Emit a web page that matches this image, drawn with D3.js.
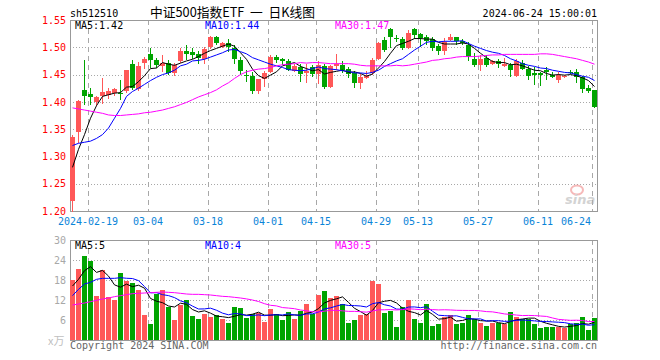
<!DOCTYPE html>
<html><head><meta charset="utf-8">
<script src="https://cdn.jsdelivr.net/npm/d3@7/dist/d3.min.js"></script>
<style>body{margin:0;background:#fff}svg{display:block}</style>
</head><body><svg id="c" width="660" height="360"></svg>
<script>
// ---------- data ----------
const dates = ["02-06","02-07","02-08","02-19","02-20","02-21","02-22","02-23","02-26","02-27","02-28","02-29","03-01",
"03-04","03-05","03-06","03-07","03-08","03-11","03-12","03-13","03-14","03-15","03-18","03-19","03-20","03-21","03-22",
"03-25","03-26","03-27","03-28","03-29","04-01","04-02","04-03","04-08","04-09","04-10","04-11","04-12","04-15","04-16",
"04-17","04-18","04-19","04-22","04-23","04-24","04-25","04-26","04-29","04-30","05-06","05-07","05-08","05-09","05-10",
"05-13","05-14","05-15","05-16","05-17","05-20","05-21","05-22","05-23","05-24","05-27","05-28","05-29","05-30","05-31",
"06-03","06-04","06-05","06-06","06-07","06-11","06-12","06-13","06-14","06-17","06-18","06-19","06-20","06-21","06-24"];
const open = [1.218,1.344,1.422,1.415,1.400,1.410,1.413,1.416,1.416,1.419,
1.470,1.424,1.471,1.487,1.477,1.465,1.471,1.452,1.475,1.494,
1.492,1.487,1.479,1.501,1.518,1.501,1.508,1.498,1.477,1.449,
1.447,1.420,1.441,1.454,1.482,1.478,1.475,1.456,1.464,1.452,
1.464,1.451,1.466,1.428,1.466,1.468,1.460,1.452,1.434,1.443,
1.452,1.478,1.513,1.533,1.517,1.516,1.498,1.533,1.524,1.518,
1.516,1.502,1.493,1.513,1.518,1.512,1.504,1.478,1.468,1.481,
1.470,1.474,1.466,1.468,1.447,1.472,1.460,1.452,1.452,1.458,
1.450,1.440,1.445,1.455,1.455,1.445,1.426,1.421];
const high = [1.339,1.403,1.476,1.425,1.411,1.443,1.426,1.425,1.440,1.459,
1.477,1.473,1.482,1.498,1.480,1.485,1.477,1.472,1.498,1.504,
1.498,1.494,1.500,1.521,1.521,1.510,1.516,1.504,1.482,1.458,
1.455,1.442,1.456,1.486,1.486,1.481,1.479,1.469,1.469,1.470,
1.468,1.475,1.470,1.468,1.487,1.474,1.463,1.457,1.451,1.457,
1.481,1.510,1.518,1.535,1.523,1.518,1.531,1.536,1.527,1.522,
1.518,1.506,1.517,1.525,1.519,1.515,1.509,1.490,1.486,1.486,
1.477,1.478,1.481,1.472,1.478,1.476,1.465,1.463,1.454,1.463,
1.455,1.455,1.450,1.458,1.461,1.447,1.430,1.421];
const low = [1.190,1.325,1.395,1.394,1.392,1.396,1.405,1.410,1.403,1.417,
1.421,1.419,1.461,1.462,1.462,1.454,1.449,1.447,1.471,1.476,
1.478,1.470,1.470,1.497,1.504,1.498,1.492,1.470,1.450,1.437,
1.415,1.415,1.428,1.452,1.472,1.467,1.456,1.454,1.437,1.434,
1.445,1.433,1.423,1.426,1.458,1.452,1.443,1.425,1.424,1.441,
1.450,1.476,1.492,1.498,1.510,1.495,1.496,1.515,1.500,1.505,
1.494,1.486,1.486,1.512,1.505,1.504,1.474,1.464,1.457,1.464,
1.467,1.462,1.464,1.445,1.445,1.459,1.440,1.430,1.429,1.440,
1.444,1.434,1.443,1.451,1.435,1.416,1.416,1.388];
const close = [1.335,1.402,1.411,1.409,1.408,1.418,1.420,1.423,1.414,1.458,
1.426,1.465,1.478,1.476,1.467,1.472,1.453,1.468,1.494,1.487,
1.486,1.481,1.496,1.519,1.507,1.507,1.500,1.478,1.456,1.447,
1.420,1.441,1.452,1.483,1.477,1.475,1.458,1.466,1.451,1.457,
1.451,1.468,1.428,1.465,1.469,1.458,1.451,1.434,1.446,1.447,
1.477,1.507,1.495,1.519,1.515,1.498,1.527,1.522,1.517,1.512,
1.499,1.493,1.509,1.519,1.512,1.507,1.482,1.468,1.478,1.468,
1.475,1.469,1.469,1.458,1.475,1.461,1.447,1.450,1.450,1.454,
1.445,1.450,1.447,1.453,1.445,1.424,1.420,1.391];
const ma5 = [1.280,1.313,1.340,1.370,1.393,1.410,1.413,1.416,1.417,1.427,
1.428,1.437,1.448,1.461,1.462,1.472,1.469,1.467,1.471,1.475,
1.478,1.483,1.489,1.494,1.498,1.502,1.506,1.502,1.490,1.478,
1.460,1.448,1.443,1.449,1.455,1.466,1.469,1.472,1.465,1.461,
1.457,1.459,1.451,1.454,1.456,1.458,1.454,1.455,1.452,1.447,
1.451,1.462,1.474,1.489,1.503,1.507,1.511,1.516,1.516,1.515,
1.515,1.509,1.506,1.506,1.506,1.508,1.506,1.498,1.489,1.481,
1.474,1.472,1.472,1.468,1.469,1.466,1.462,1.458,1.457,1.452,
1.449,1.450,1.449,1.450,1.448,1.444,1.439,1.428];
const ma10 = [1.320,1.324,1.326,1.328,1.333,1.340,1.352,1.370,1.388,
1.410,1.419,1.425,1.432,1.439,1.445,1.450,1.453,1.458,1.466,
1.469,1.475,1.476,1.478,1.482,1.486,1.490,1.495,1.496,
1.492,1.488,1.481,1.477,1.473,1.469,1.466,1.463,1.459,1.458,
1.457,1.458,1.461,1.464,1.461,1.460,1.459,1.457,1.456,1.453,
1.453,1.452,1.454,1.458,1.465,1.470,1.475,1.479,1.487,1.495,
1.502,1.509,1.511,1.510,1.511,1.511,1.511,1.512,1.507,1.502,
1.498,1.494,1.491,1.489,1.485,1.479,1.475,1.470,1.467,1.465,
1.462,1.461,1.458,1.456,1.454,1.453,1.450,1.447,1.445,1.439];
const ma30 = [1.389,1.387,1.385,1.383,1.381,1.379,1.376,1.375,1.375,1.376,
1.377,1.378,1.380,1.381,1.383,1.385,1.388,1.391,1.395,1.399,
1.404,1.409,1.413,1.417,1.422,1.429,1.435,1.443,1.450,
1.455,1.458,1.460,1.461,1.463,1.466,1.468,1.469,1.470,1.472,
1.471,1.472,1.472,1.471,1.470,1.470,1.470,1.470,1.469,1.467,
1.466,1.466,1.466,1.466,1.466,1.467,1.466,1.467,1.469,1.471,
1.473,1.476,1.477,1.479,1.480,1.482,1.483,1.483,1.483,1.484,
1.485,1.486,1.486,1.487,1.487,1.487,1.487,1.487,1.487,1.488,
1.488,1.487,1.485,1.483,1.481,1.479,1.476,1.473,1.469];
const volume = [18.0,21.3,25.2,23.7,13.2,21.0,12.8,12.0,20.2,17.8,
17.2,15.0,7.5,4.8,13.7,15.0,10.0,6.0,10.5,12.0,
7.2,6.3,7.8,7.0,7.5,6.3,5.0,9.8,9.5,6.7,
7.7,8.0,5.4,9.3,7.8,6.0,8.3,6.3,8.7,10.8,
7.8,13.5,14.8,12.5,13.2,10.7,5.2,6.0,7.5,7.8,
17.8,16.8,8.2,8.8,4.0,10.0,12.0,6.3,5.2,10.8,
4.2,4.8,7.0,7.5,4.8,5.2,7.5,6.3,5.2,4.3,
5.2,5.0,4.8,8.4,7.0,6.3,6.3,4.8,3.7,4.0,
4.0,4.0,3.7,4.8,5.2,7.0,3.0,6.7];
const volMa5 = [16.2,18.2,20.8,22.0,
20.28,20.88,19.18,16.54,15.84,16.76,16.0,16.44,15.54,12.46,
11.64,11.2,10.2,9.9,11.04,10.7,9.14,8.4,8.76,8.06,
7.16,6.98,6.72,7.12,7.62,7.46,7.74,8.34,7.46,7.42,
7.64,7.3,7.36,7.54,7.42,8.02,8.38,9.42,11.12,11.88,
12.36,12.94,11.28,9.52,8.52,7.44,8.86,11.18,11.62,11.88,
11.12,9.56,8.6,8.22,7.5,8.86,7.7,6.26,6.4,6.86,
5.66,5.86,6.4,6.26,5.8,5.7,5.7,5.2,4.9,5.54,
6.08,6.3,6.56,6.56,5.62,5.02,4.56,4.1,3.88,4.1,
4.34,4.94,4.74,5.34];
const volMa10 = [13.3,15.2,16.8,17.3,18.2,18.5,18.5,18.5,18.7,
18.52,18.44,17.81,16.04,14.15,14.2,13.6,13.32,12.72,11.75,
11.17,10.17,9.3,9.33,9.55,8.93,8.06,7.56,7.94,7.84,
7.31,7.36,7.53,7.29,7.52,7.55,7.52,7.85,7.5,7.42,
7.83,7.84,8.39,9.33,9.65,10.19,10.66,10.35,10.32,10.2,
9.9,10.9,11.23,10.57,10.2,9.28,9.21,9.89,9.92,9.69,
9.99,8.63,7.43,7.31,7.18,7.26,6.78,6.33,6.33,6.33,
5.68,5.78,5.8,5.58,5.67,5.89,6.0,5.88,5.73,5.58,
5.55,5.43,5.33,5.22,4.86,4.68,4.75,4.42,4.61];
const volMa30 = [10.5,10.8,11.1,11.5,11.9,12.3,12.6,13.0,13.3,13.6,
13.9,14.0,14.1,14.2,14.3,14.4,14.3,14.2,14.0,13.8,
13.7,13.7,13.6,13.5,13.3,13.1,13.0,12.8,12.6,
12.33,11.99,11.55,10.89,10.41,10.23,9.73,9.58,9.39,9.0,
8.77,8.46,8.41,8.65,8.91,8.89,8.75,8.59,8.59,8.49,
8.35,8.7,9.05,9.06,9.12,9.01,9.13,9.36,9.25,9.1,
9.24,9.12,9.02,9.07,9.01,8.91,8.88,8.86,8.86,8.74,
8.52,8.44,8.15,7.82,7.68,7.48,7.33,7.37,7.33,7.2,
7.07,6.61,6.19,6.04,5.9,5.94,5.84,5.54,5.56];
const priceTicks = [1.20,1.25,1.30,1.35,1.40,1.45,1.50,1.55];
const volTicks = [6,12,18,24,30];
const dateTicks = ["02-19","03-04","03-18","04-01","04-15","04-29","05-13","05-27","06-11","06-24"];
const dateTickLabels = ["2024-02-19","03-04","03-18","04-01","04-15","04-29","05-13","05-27","06-11","06-24"];
const legendPrice = ["MA5:1.42","MA10:1.44","MA30:1.47"];
const legendVol = ["MA5:5","MA10:4","MA30:5"];

// ---------- chart ----------
const svg = d3.select("#c");
const MONO = "'DejaVu Sans Mono', 'Liberation Mono', monospace";
const L = 70, R = 598;
const PT = 20, PB = 211, VT = 240, VB = 340;
const UP = "#ff5858", DOWN = "#00a400";
const GRID = "#a8a8a8", BORDER = "#999999";
const maColors = ["#000000", "#0000ff", "#ff00ff"];

const x = d3.scaleBand().domain(dates).range([L, R])
  .paddingInner(1/6).paddingOuter(1/12).align(0);
const y = d3.scaleLinear().domain([1.20, 1.55]).range([PB, PT]);
const yv = d3.scaleLinear().domain([0, 30]).range([VB, VT]);
const cx = d => x(d) + 2.5;
const crisp = v => Math.round(v) + 0.5;

svg.append("defs").append("clipPath").attr("id", "pclip")
  .append("rect").attr("x", L).attr("y", PT).attr("width", R - L).attr("height", PB - PT + 1);

// header texts
svg.append("text").attr("x", 70).attr("y", 17).attr("font-family", MONO).attr("font-size", 10)
  .attr("fill", "#000").text("sh512510");
svg.append("text").attr("x", 150).attr("y", 17).attr("font-family", "'Noto Sans CJK SC', sans-serif")
  .attr("font-size", 13).attr("fill", "#000").attr("textLength", 165).attr("lengthAdjust", "spacingAndGlyphs")
  .text("中证500指数ETF\u00a0\u00a0一\u00a0\u00a0日K线图");
svg.append("text").attr("x", 597).attr("y", 17).attr("text-anchor", "end").attr("font-family", MONO)
  .attr("font-size", 10).attr("fill", "#000").text("2024-06-24 15:00:01");

function panelGrid(top, bottom, yScale, ticks) {
  const g = svg.append("g");
  ticks.forEach(t => {
    const yy = crisp(yScale(t));
    if (yy <= top + 1 || yy >= bottom) return;
    g.append("line").attr("x1", L).attr("x2", R).attr("y1", yy).attr("y2", yy)
      .attr("stroke", GRID).attr("stroke-dasharray", "1,2");
  });
  dateTicks.forEach(d => {
    const xx = x(d) + 0.5;
    g.append("line").attr("x1", xx).attr("x2", xx).attr("y1", top).attr("y2", bottom)
      .attr("stroke", GRID).attr("stroke-dasharray", "5,4");
  });
  g.append("rect").attr("x", L + 0.5).attr("y", top + 0.5).attr("width", R - L - 1)
    .attr("height", bottom - top).attr("fill", "none").attr("stroke", BORDER);
}
panelGrid(PT, PB, y, priceTicks);
panelGrid(VT, VB, yv, volTicks);

// price axis
const ay = svg.append("g").attr("transform", `translate(${L},0)`)
  .call(d3.axisLeft(y).tickValues(priceTicks).tickSize(0).tickPadding(4).tickFormat(d3.format(".2f")));
ay.select(".domain").remove();
ay.selectAll("text").attr("font-family", MONO).attr("font-size", 10).attr("fill", "#ff0000");

// volume axis
const av = svg.append("g").attr("transform", `translate(${L},0)`)
  .call(d3.axisLeft(yv).tickValues(volTicks).tickSize(0).tickPadding(4));
av.select(".domain").remove();
av.selectAll("text").attr("font-family", MONO).attr("font-size", 10).attr("fill", "#a8a8a8");
svg.append("text").attr("x", 48).attr("y", 345).attr("font-family", "'Noto Sans CJK SC', sans-serif")
  .attr("font-size", 11).attr("fill", "#c0c0c0").text("x万");

// date labels
dateTicks.forEach((d, i) => {
  const last = i === dateTicks.length - 1;
  svg.append("text").attr("x", last ? 591 : x(d)).attr("y", 225)
    .attr("text-anchor", last ? "end" : "middle")
    .attr("font-family", MONO).attr("font-size", 10).attr("fill", "#0a84d8")
    .text(dateTickLabels[i]);
});

// candles
const idx = d3.range(dates.length);
const cg = svg.append("g").attr("clip-path", "url(#pclip)").attr("shape-rendering", "crispEdges");
cg.selectAll("line.w").data(idx).join("line")
  .attr("x1", i => cx(dates[i])).attr("x2", i => cx(dates[i]))
  .attr("y1", i => y(high[i])).attr("y2", i => y(low[i]))
  .attr("stroke", i => close[i] >= open[i] ? UP : DOWN);
cg.selectAll("rect.b").data(idx).join("rect")
  .attr("x", i => x(dates[i])).attr("width", x.bandwidth())
  .attr("y", i => y(Math.max(open[i], close[i])))
  .attr("height", i => Math.max(1, Math.abs(y(open[i]) - y(close[i]))))
  .attr("fill", i => close[i] >= open[i] ? UP : DOWN);

// MA lines (price)
const lg = svg.append("g").attr("clip-path", "url(#pclip)");
[ma5, ma10, ma30].forEach((arr, k) => {
  lg.append("path").datum(idx)
    .attr("d", d3.line().x(i => cx(dates[i])).y(i => y(arr[i])))
    .attr("fill", "none").attr("stroke", maColors[k]).attr("stroke-width", 1);
});

// volume bars
svg.append("g").attr("shape-rendering", "crispEdges").selectAll("rect").data(idx).join("rect")
  .attr("x", i => x(dates[i])).attr("width", x.bandwidth())
  .attr("y", i => yv(volume[i])).attr("height", i => VB - yv(volume[i]))
  .attr("fill", i => close[i] >= open[i] ? UP : DOWN);
[volMa5, volMa10, volMa30].forEach((arr, k) => {
  svg.append("path").datum(idx)
    .attr("d", d3.line().x(i => cx(dates[i])).y(i => yv(arr[i])))
    .attr("fill", "none").attr("stroke", maColors[k]).attr("stroke-width", 1);
});

// legends
const legX = [75, 205, 335];
legendPrice.forEach((t, k) => svg.append("text").attr("x", legX[k]).attr("y", 29)
  .attr("font-family", MONO).attr("font-size", 10).attr("fill", maColors[k]).text(t));
legendVol.forEach((t, k) => svg.append("text").attr("x", legX[k]).attr("y", 249)
  .attr("font-family", MONO).attr("font-size", 10).attr("fill", maColors[k]).text(t));

// sina watermark
const wm = svg.append("g").attr("opacity", 0.55);
wm.append("ellipse").attr("cx", 577).attr("cy", 190).attr("rx", 6).attr("ry", 4.5)
  .attr("fill", "none").attr("stroke", "#f08080").attr("stroke-width", 2);
wm.append("text").attr("x", 565).attr("y", 204).attr("font-family", "'DejaVu Sans', sans-serif")
  .attr("font-size", 13).attr("font-weight", "bold").attr("font-style", "italic").attr("fill", "#b0b0b0").text("sina");

// footer
svg.append("text").attr("x", 70).attr("y", 349).attr("font-family", MONO).attr("font-size", 10)
  .attr("fill", "#666").text("Copyright 2024 SINA.COM");
svg.append("text").attr("x", 597).attr("y", 349).attr("text-anchor", "end").attr("font-family", MONO)
  .attr("font-size", 10).attr("fill", "#666").text("http://finance.sina.com.cn");
</script>
</body></html>
